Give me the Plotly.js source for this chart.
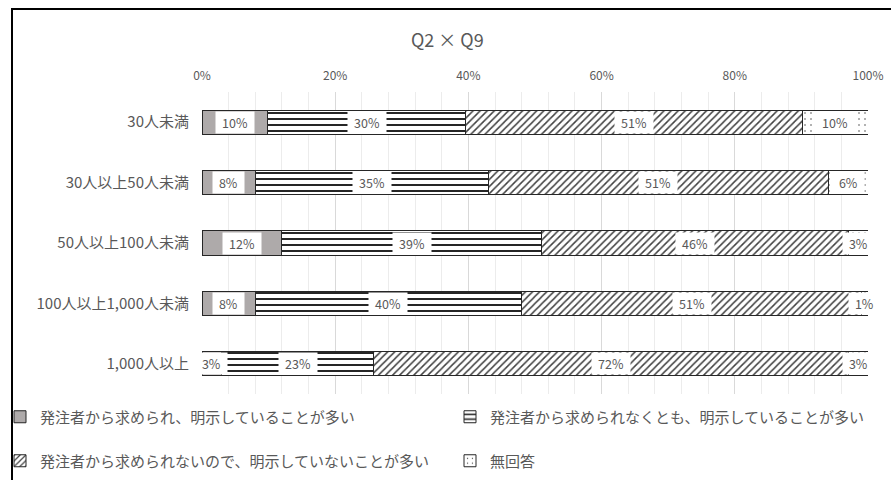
<!DOCTYPE html>
<html><head><meta charset="utf-8">
<script src="https://cdn.plot.ly/plotly-3.0.1.min.js"></script>
<style>
html,body{margin:0;padding:0;background:#fff;overflow:hidden;}
#frame{position:absolute;left:11px;top:8px;width:1000px;height:1000px;border:2px solid #000;box-sizing:border-box;}
#chart{position:absolute;left:0;top:0;width:891px;height:480px;}
</style></head><body>
<div id="frame"></div>
<div id="chart"></div>
<script>
const categories = ['30人未満','30人以上50人未満','50人以上100人未満','100人以上1,000人未満','1,000人以上'];
const seriesNames = [
  '発注者から求められ、明示していることが多い',
  '発注者から求められなくとも、明示していることが多い',
  '発注者から求められないので、明示していないことが多い',
  '無回答'
];
const requested = [10, 8, 12, 8, 3];
const voluntary = [30, 35, 39, 40, 23];
const notShown  = [51, 51, 46, 51, 72];
const noAnswer  = [10, 6, 3, 1, 3];
const xTickVals = [0, 20, 40, 60, 80, 100];
const xTickText = ['0%', '20%', '40%', '60%', '80%', '100%'];

const FONT = '"Noto Sans CJK JP", "Noto Sans", sans-serif';
const TXT = '#595959';
const series = [requested, voluntary, notShown, noAnswer];
const lineStyle = {color: '#262626', width: 1};
const markers = [
  {color: '#AEAAAA', line: lineStyle},
  {color: '#ffffff', line: lineStyle, pattern: {shape: '-', fgcolor: '#262626', bgcolor: '#ffffff', size: 6, solidity: 0.33, fillmode: 'replace'}},
  {color: '#ffffff', line: lineStyle, pattern: {shape: '/', fgcolor: '#404040', bgcolor: '#ffffff', size: 5, solidity: 0.3, fillmode: 'replace'}},
  {color: '#ffffff', line: lineStyle, pattern: {shape: '.', fgcolor: '#404040', bgcolor: '#ffffff', size: 6, solidity: 0.05, fillmode: 'replace'}}
];
const legendIds = ['legend', 'legend2', 'legend3', 'legend4'];

const traces = series.map((vals, s) => ({
  type: 'bar', orientation: 'h', name: seriesNames[s],
  x: vals, y: categories, marker: markers[s],
  legend: legendIds[s], hoverinfo: 'skip'
}));

// data labels with white boxes, placed at segment midpoints (normalized like a 100% stacked bar)
const annotations = [];
categories.forEach((c, i) => {
  const total = series.reduce((a, v) => a + v[i], 0);
  let cum = 0;
  series.forEach((vals, s) => {
    const v = vals[i];
    const mid = (cum + v / 2) / total * 100;
    cum += v;
    const txt = v + '%';
    const digits = String(v).length;
    annotations.push({
      x: mid, y: c, xref: 'x', yref: 'y', text: txt, showarrow: false,
      bgcolor: '#ffffff', borderpad: 0, width: digits * 7.2 + 23.5, height: 21,
      font: {family: FONT, size: 12.5, color: TXT}
    });
  });
});

const legBase = (x, y) => ({
  xref: 'container', yref: 'container', x: x, y: y, xanchor: 'left', yanchor: 'middle',
  orientation: 'h', bgcolor: 'rgba(0,0,0,0)', borderwidth: 0,
  font: {family: FONT, size: 15, color: TXT}
});

const layout = {
  width: 891, height: 480,
  paper_bgcolor: 'rgba(0,0,0,0)', plot_bgcolor: 'rgba(0,0,0,0)',
  margin: {l: 202, r: 23, t: 92, b: 86},
  barmode: 'stack', barnorm: 'percent', bargap: 0.6,
  title: {text: 'Q2 × Q9', x: 0.502, xanchor: 'center', y: 1 - 41 / 480, yanchor: 'middle',
          font: {family: FONT, size: 18, color: TXT}},
  xaxis: {
    side: 'top', range: [0, 100], tickmode: 'array', tickvals: xTickVals, ticktext: xTickText,
    showgrid: true, gridcolor: '#d9d9d9', gridwidth: 1, zeroline: false, showline: false,
    ticks: '', tickfont: {family: FONT, size: 12, color: TXT}, ticklabelstandoff: 9,
    minor: {dtick: 4, tick0: 0, showgrid: true, gridcolor: '#ececec', gridwidth: 1}
  },
  yaxis: {
    autorange: 'reversed', showgrid: false, zeroline: false, showline: false, ticks: '',
    tickfont: {family: FONT, size: 15, color: TXT}, ticklabelstandoff: 12
  },
  showlegend: true,
  legend: legBase(0 / 891, 1 - 417 / 480),
  legend2: legBase(450 / 891, 1 - 417 / 480),
  legend3: legBase(0 / 891, 1 - 461 / 480),
  legend4: legBase(450 / 891, 1 - 461 / 480),
  annotations: annotations
};

Plotly.newPlot('chart', traces, layout, {displayModeBar: false, staticPlot: true});
</script>
</body></html>
